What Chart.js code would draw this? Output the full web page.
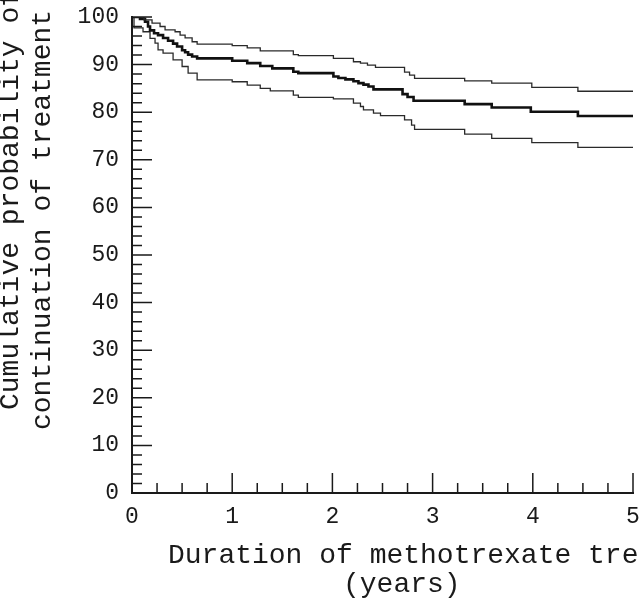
<!DOCTYPE html>
<html>
<head>
<meta charset="utf-8">
<script src="https://cdn.jsdelivr.net/npm/chart.js@4.4.0/dist/chart.umd.min.js"></script>
<style>
  html, body { margin: 0; padding: 0; background: #fff; overflow: hidden; }
</style>
</head>
<body>
<canvas id="kmChart" width="640" height="603"></canvas>
<script>
// Kaplan-Meier: continuation of methotrexate, with 95% band
const xTickValues = [0, 1, 2, 3, 4, 5];
const yTickValues = [0, 10, 20, 30, 40, 50, 60, 70, 80, 90, 100];
const xMinorStep = 0.25;
const yMinorStep = 2;

const xTitle = 'Duration of methotrexate treatment';
const xTitle2 = '(years)';
const yTitle1 = 'Cumulative probability of';
const yTitle2 = 'continuation of treatment';

// estimate (thick line)
const centerTimes  = [0, 0.08, 0.13, 0.16, 0.18, 0.22, 0.26, 0.31, 0.36, 0.41, 0.45, 0.50, 0.53, 0.56, 0.60, 0.65,
                      1.00, 1.15, 1.28, 1.40, 1.61, 1.66, 2.01, 2.06, 2.13, 2.21, 2.26, 2.31, 2.36, 2.41,
                      2.70, 2.75, 2.81, 3.32, 3.59, 3.98, 4.45, 5.0];
const centerValues = [100, 99.6, 99.0, 98.0, 97.2, 96.6, 96.2, 95.6, 95.0, 94.4, 93.8, 93.0, 92.6, 92.1, 91.7, 91.3,
                      90.8, 90.3, 89.7, 89.2, 88.5, 88.2, 87.5, 87.2, 86.9, 86.5, 86.1, 85.8, 85.4, 84.8,
                      83.8, 83.2, 82.4, 81.7, 81.0, 80.1, 79.2, 79.2];

// upper bound
const upperTimes  = [0, 0.12, 0.20, 0.28, 0.33, 0.43, 0.48, 0.53, 0.60, 0.65, 1.00, 1.15, 1.28, 1.61, 1.66,
                     2.01, 2.21, 2.28, 2.35, 2.43, 2.72, 2.77, 2.82, 3.32, 3.59, 3.99, 4.45, 5.0];
const upperValues = [100, 99.4, 98.7, 98.0, 97.3, 96.9, 96.2, 95.6, 94.8, 94.3, 94.0, 93.5, 92.9, 92.1, 91.9,
                     91.3, 90.6, 90.3, 89.9, 89.4, 88.4, 87.8, 87.1, 86.6, 86.1, 85.2, 84.4, 84.4];

// lower bound
const lowerTimes  = [0, 0.02, 0.11, 0.18, 0.23, 0.26, 0.31, 0.41, 0.50, 0.56, 0.65, 1.00, 1.15, 1.28, 1.38,
                     1.61, 1.66, 2.01, 2.21, 2.28, 2.31, 2.41, 2.48, 2.72, 2.79, 2.82, 3.32, 3.59, 3.99, 4.45, 5.0];
const lowerValues = [100, 97.7, 96.9, 95.5, 94.5, 93.1, 92.4, 91.0, 89.6, 88.2, 86.8, 86.4, 85.7, 85.0, 84.5,
                     83.6, 83.1, 82.8, 81.9, 81.2, 80.5, 79.8, 79.3, 78.4, 77.3, 76.4, 75.4, 74.5, 73.6, 72.6, 72.6];

const monoFont = '"Liberation Mono", "DejaVu Sans Mono", monospace';
const inkColor = '#1a1a1a';

function toPoints(times, values) {
  return times.map((t, i) => ({ x: t, y: values[i] }));
}

// inward tick marks + axis titles
const axisDecor = {
  id: 'axisDecor',
  afterDraw(chart) {
    const { ctx, chartArea, scales: { x, y } } = chart;
    ctx.save();
    ctx.strokeStyle = inkColor;
    ctx.lineWidth = 1.5;
    ctx.beginPath();
    for (let v = y.min; v <= y.max + 0.001; v += yMinorStep) {
      const py = y.getPixelForValue(v);
      const len = yTickValues.includes(Math.round(v)) ? 20 : 10;
      ctx.moveTo(chartArea.left, py);
      ctx.lineTo(chartArea.left + len, py);
    }
    for (let v = x.min; v <= x.max + 0.001; v += xMinorStep) {
      const px = x.getPixelForValue(v);
      const len = Math.abs(v - Math.round(v)) < 0.001 ? 20 : 10;
      ctx.moveTo(px, chartArea.bottom);
      ctx.lineTo(px, chartArea.bottom - len);
    }
    ctx.stroke();

    ctx.fillStyle = inkColor;
    ctx.font = '28px ' + monoFont;
    ctx.textAlign = 'left';
    ctx.textBaseline = 'alphabetic';
    ctx.fillText(xTitle, chartArea.left + 36, chartArea.bottom + 70);
    ctx.fillText(xTitle2, chartArea.left + 211, chartArea.bottom + 99);

    ctx.save();
    ctx.translate(chartArea.left - 114, chartArea.bottom - 83);
    ctx.rotate(-Math.PI / 2);
    ctx.fillText(yTitle1, 0, 0);
    ctx.restore();
    ctx.save();
    ctx.translate(chartArea.left - 82, chartArea.bottom - 63);
    ctx.rotate(-Math.PI / 2);
    ctx.fillText(yTitle2, 0, 0);
    ctx.restore();
    ctx.restore();
  }
};

const ctx = document.getElementById('kmChart');
new Chart(ctx, {
  type: 'line',
  data: {
    datasets: [
      {
        label: 'Upper',
        data: toPoints(upperTimes, upperValues),
        borderColor: '#2a2a2a',
        borderWidth: 1.3,
        stepped: true,
        pointRadius: 0,
        fill: false
      },
      {
        label: 'Estimate',
        data: toPoints(centerTimes, centerValues),
        borderColor: '#111',
        borderWidth: 2.6,
        stepped: true,
        pointRadius: 0,
        fill: false
      },
      {
        label: 'Lower',
        data: toPoints(lowerTimes, lowerValues),
        borderColor: '#2a2a2a',
        borderWidth: 1.3,
        stepped: true,
        pointRadius: 0,
        fill: false
      }
    ]
  },
  options: {
    responsive: false,
    animation: false,
    devicePixelRatio: 1,
    layout: { padding: { top: 17, right: 7, left: 0, bottom: 0 } },
    plugins: {
      legend: { display: false },
      tooltip: { enabled: false }
    },
    scales: {
      x: {
        type: 'linear',
        min: 0,
        max: 5,
        afterBuildTicks: (scale) => { scale.ticks = xTickValues.map(v => ({ value: v })); },
        afterFit: (scale) => {
          scale.height = 110;
          scale.paddingLeft = 0;
          scale.paddingRight = 0;
        },
        ticks: {
          color: inkColor,
          font: { family: monoFont, size: 23 },
          padding: 10,
          maxRotation: 0
        },
        grid: { display: false, drawTicks: false },
        border: { display: true, color: inkColor, width: 2 }
      },
      y: {
        min: 0,
        max: 100,
        afterBuildTicks: (scale) => { scale.ticks = yTickValues.map(v => ({ value: v })); },
        afterFit: (scale) => {
          scale.width = 132;
          scale.paddingTop = 0;
          scale.paddingBottom = 0;
        },
        ticks: {
          color: inkColor,
          font: { family: monoFont, size: 23 },
          padding: 13
        },
        grid: { display: false, drawTicks: false },
        border: { display: true, color: inkColor, width: 2 }
      }
    }
  },
  plugins: [axisDecor]
});
</script>
</body>
</html>
